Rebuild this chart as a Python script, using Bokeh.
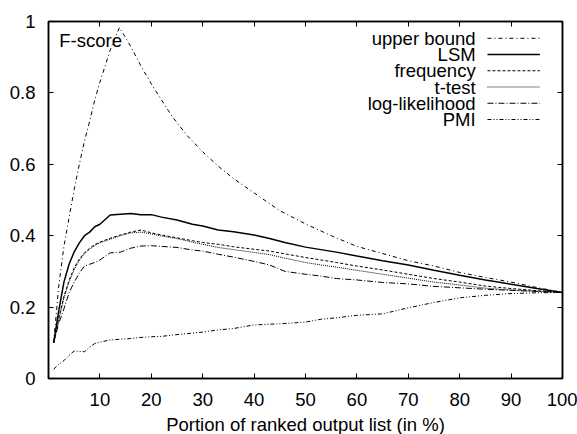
from bokeh.plotting import figure
from bokeh.models import Range1d, FixedTicker, LinearAxis, Label, Arrow
from bokeh.embed import file_html
from bokeh.resources import INLINE

# ---------------- data ----------------
x_common = [1, 2, 3, 4, 5, 6, 7, 8, 9, 10, 12, 14, 16, 18, 20, 22, 25, 28, 30, 33,
            36, 40, 43, 46, 50, 53, 56, 60, 65, 70, 75, 80, 85, 90, 95, 100]

lsm = [0.10, 0.19, 0.27, 0.32, 0.355, 0.38, 0.40, 0.41, 0.425, 0.432, 0.458, 0.46,
       0.462, 0.459, 0.459, 0.452, 0.444, 0.432, 0.427, 0.416, 0.411, 0.402, 0.392,
       0.381, 0.368, 0.361, 0.354, 0.343, 0.330, 0.318, 0.303, 0.289, 0.276, 0.264,
       0.252, 0.241]

frequency = [0.10, 0.17, 0.23, 0.275, 0.31, 0.335, 0.352, 0.365, 0.375, 0.382, 0.393,
             0.402, 0.41, 0.416, 0.408, 0.402, 0.394, 0.386, 0.381, 0.376, 0.369,
             0.362, 0.357, 0.349, 0.339, 0.332, 0.325, 0.315, 0.304, 0.292, 0.28,
             0.27, 0.259, 0.252, 0.246, 0.241]

t_test = [0.10, 0.165, 0.225, 0.27, 0.305, 0.33, 0.35, 0.362, 0.372, 0.38, 0.39,
          0.40, 0.408, 0.41, 0.405, 0.399, 0.392, 0.382, 0.376, 0.367, 0.361, 0.353,
          0.347, 0.337, 0.325, 0.318, 0.312, 0.303, 0.292, 0.281, 0.27, 0.262,
          0.253, 0.248, 0.244, 0.241]

log_likelihood = [0.10, 0.155, 0.195, 0.24, 0.27, 0.295, 0.315, 0.32, 0.325, 0.332,
                  0.352, 0.354, 0.365, 0.371, 0.372, 0.37, 0.367, 0.36, 0.357, 0.348,
                  0.34, 0.328, 0.318, 0.30, 0.292, 0.287, 0.28, 0.276, 0.269, 0.265,
                  0.258, 0.254, 0.25, 0.247, 0.244, 0.241]

pmi = [0.026, 0.04, 0.05, 0.065, 0.077, 0.076, 0.075, 0.088, 0.098, 0.102, 0.108,
       0.110, 0.112, 0.115, 0.117, 0.118, 0.123, 0.127, 0.130, 0.136, 0.140, 0.150,
       0.152, 0.154, 0.158, 0.166, 0.170, 0.177, 0.181, 0.198, 0.213, 0.226, 0.233,
       0.238, 0.240, 0.241]

x_upper = [1, 2, 3, 4, 5, 6, 7, 8, 9, 10, 11, 12, 13, 13.8, 15, 16, 18, 20, 22, 24,
           27, 30, 33, 36, 40, 45, 50, 55, 60, 65, 70, 75, 80, 85, 90, 95, 100]
upper_bound = [0.10, 0.26, 0.37, 0.45, 0.53, 0.60, 0.665, 0.72, 0.78, 0.83, 0.875,
               0.92, 0.955, 0.983, 0.955, 0.93, 0.875, 0.825, 0.78, 0.735, 0.68,
               0.635, 0.595, 0.56, 0.52, 0.47, 0.433, 0.40, 0.37, 0.35, 0.33, 0.315,
               0.297, 0.283, 0.27, 0.255, 0.241]

series_names = ["upper bound", "LSM", "frequency", "t-test", "log-likelihood", "PMI"]
x_ticks = [10, 20, 30, 40, 50, 60, 70, 80, 90, 100]
y_ticks = [0, 0.2, 0.4, 0.6, 0.8, 1]
y_tick_labels = ["0", "0.2", "0.4", "0.6", "0.8", "1"]
x_label = "Portion of ranked output list (in %)"
y_title = "F-score"

# ---------------- styles ----------------
FONT = "Liberation Sans"
FS = "18.5px"
styles = {
    "upper bound":    dict(line_dash="4 3 1 3", line_width=1.0),
    "LSM":            dict(line_dash="solid", line_width=1.5),
    "frequency":      dict(line_dash="3 2", line_width=1.0),
    "t-test":         dict(line_dash="1 1", line_width=1.0),
    "log-likelihood": dict(line_dash="6 2 1 2", line_width=1.0),
    "PMI":            dict(line_dash="4 2 1 2 1 2", line_width=1.0),
}

p = figure(width=577, height=434, frame_width=514, frame_height=357,
           output_backend="svg", toolbar_location=None,
           x_range=Range1d(0, 100), y_range=Range1d(0, 1),
           min_border_left=48, min_border_right=15, min_border_top=21,
           min_border_bottom=56)
p.grid.visible = False
p.outline_line_color = "black"
p.outline_line_width = 1.5
p.background_fill_color = "white"
p.border_fill_color = "white"

data = {
    "upper bound": (x_upper, upper_bound),
    "LSM": (x_common, lsm),
    "frequency": (x_common, frequency),
    "t-test": (x_common, t_test),
    "log-likelihood": (x_common, log_likelihood),
    "PMI": (x_common, pmi),
}
for name in series_names:
    xs, ys = data[name]
    p.line(xs, ys, line_color="black", **styles[name])

# axes
for ax in (p.xaxis[0], p.yaxis[0]):
    ax.axis_line_width = 1.5
    ax.major_tick_in = 5
    ax.major_tick_out = 0
    ax.minor_tick_in = 0
    ax.minor_tick_out = 0
    ax.major_tick_line_width = 1
    ax.major_label_text_font = FONT
    ax.major_label_text_font_size = FS
    ax.major_label_text_color = "black"

p.yaxis[0].major_label_standoff = 13
p.xaxis[0].major_label_standoff = 14
p.xaxis[0].ticker = FixedTicker(ticks=x_ticks)
p.yaxis[0].ticker = FixedTicker(ticks=y_ticks)
p.yaxis[0].major_label_overrides = {t: l for t, l in zip(y_ticks, y_tick_labels)}
p.xaxis[0].axis_label = x_label
p.xaxis[0].axis_label_text_font = FONT
p.xaxis[0].axis_label_text_font_size = FS
p.xaxis[0].axis_label_text_font_style = "normal"
p.xaxis[0].axis_label_text_color = "black"
p.xaxis[0].axis_label_standoff = 5

# mirrored tick axes (top / right), labels not drawn
mirror = dict(major_label_text_font_size="1px", major_label_text_color=None,
              major_tick_in=5, major_tick_out=0, minor_tick_in=0, minor_tick_out=0,
              axis_line_width=1.5, major_label_standoff=0)
top = LinearAxis(ticker=FixedTicker(ticks=x_ticks[:-1]), **mirror)
right = LinearAxis(ticker=FixedTicker(ticks=y_ticks[1:-1]), **mirror)
p.add_layout(top, "above")
p.add_layout(right, "right")

# "F-score" title inside plot
p.add_layout(Label(x=2.1, y=0.946, text=y_title, text_font=FONT, text_font_size=FS,
                   text_baseline="middle", text_align="left", text_color="black"))

# legend (text right-aligned, line sample on the right)
leg_text_x = 83.1
leg_line_x0, leg_line_x1 = 85.4, 95.6
leg_y0, leg_dy = 0.953, 0.0455
for i, name in enumerate(series_names):
    yy = leg_y0 - i * leg_dy
    p.add_layout(Label(x=leg_text_x, y=yy, text=name, text_font=FONT, text_font_size=FS,
                       text_align="right", text_baseline="middle", text_color="black"))
    p.add_layout(Arrow(x_start=leg_line_x0, y_start=yy, x_end=leg_line_x1, y_end=yy,
                       start=None, end=None, line_color="black", **styles[name]))

open("out.html", "w").write(file_html(p, INLINE))
